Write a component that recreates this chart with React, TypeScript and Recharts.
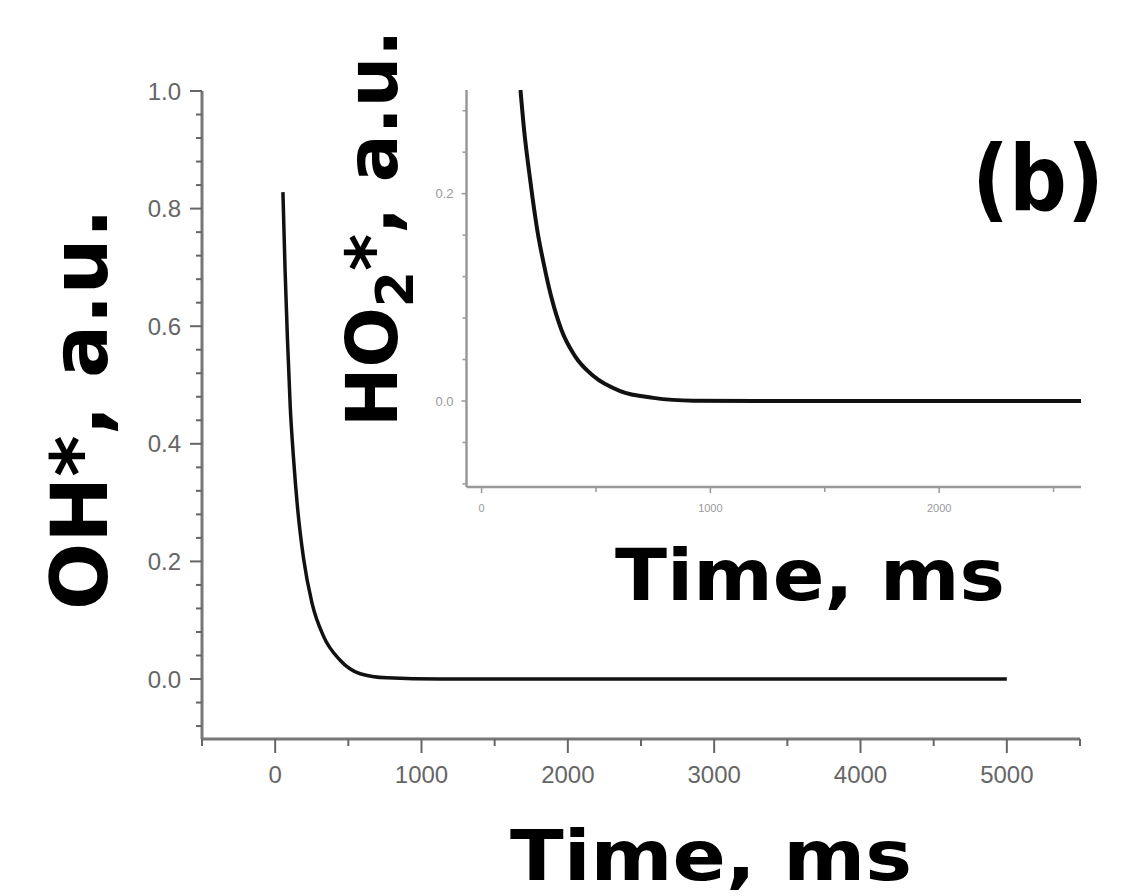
import React from 'react';
import { LineChart, Line, XAxis, YAxis, Label } from 'recharts';

// 메인 그래프: OH* 감쇠 (시간 ms, 값 a.u.)
const ohTime = [53, 68, 84, 103, 125, 153, 194, 251, 330, 444, 581, 763, 1128, 2000, 3000, 4000, 5000];
const ohValue = [0.828, 0.693, 0.578, 0.463, 0.377, 0.291, 0.205, 0.13, 0.073, 0.032, 0.009, 0.002, 0, 0, 0, 0, 0];

// 인셋 그래프: HO2* 감쇠
const ho2Time = [170, 186, 203, 222, 244, 272, 305, 350, 409, 489, 606, 751, 926, 1200, 2000, 2620];
const ho2Value = [0.3, 0.261, 0.229, 0.197, 0.164, 0.132, 0.1, 0.068, 0.043, 0.024, 0.0095, 0.003, 0.0003, 0, 0, 0];

// 눈금
const mainXTicks = [-500, 0, 500, 1000, 1500, 2000, 2500, 3000, 3500, 4000, 4500, 5000, 5500];
const mainXLabels = [0, 1000, 2000, 3000, 4000, 5000];
const mainYTicks = [
  -0.08, -0.04, 0, 0.04, 0.08, 0.12, 0.16, 0.2, 0.24, 0.28, 0.32, 0.36, 0.4, 0.44, 0.48, 0.52,
  0.56, 0.6, 0.64, 0.68, 0.72, 0.76, 0.8, 0.84, 0.88, 0.92, 0.96, 1.0,
];
const mainYLabels = [0, 0.2, 0.4, 0.6, 0.8, 1.0];

const insetXTicks = [0, 500, 1000, 1500, 2000, 2500];
const insetXLabels = [0, 1000, 2000];
const insetYTicks = [-0.08, -0.04, 0, 0.04, 0.08, 0.12, 0.16, 0.2, 0.24, 0.28];
const insetYLabels = [0, 0.2];

const mainData = ohTime.map((t, i) => ({ t, v: ohValue[i] }));
const insetData = ho2Time.map((t, i) => ({ t, v: ho2Value[i] }));

const TICK_FONT = '"Liberation Sans", Arial, sans-serif';
const TITLE_FONT = '"DejaVu Sans", sans-serif';

interface TickStyle {
  majors: number[];
  majorLen: number;
  minorLen: number;
  color: string;
  lineWidth: number;
  fontSize: number;
  offset: number;
  format: (v: number) => string;
}

const isMajor = (v: number, majors: number[]) => majors.some((m) => Math.abs(m - v) < 1e-6);

// 아래쪽 X축 눈금 (주/보조 눈금 길이 다르게)
function makeXTick(s: TickStyle) {
  return (props: any) => {
    const { x, y, payload } = props;
    const major = isMajor(payload.value, s.majors);
    return (
      <g>
        <line x1={x} x2={x} y1={y} y2={y + (major ? s.majorLen : s.minorLen)} stroke={s.color} strokeWidth={s.lineWidth} />
        {major && (
          <text x={x} y={y + s.offset} textAnchor="middle" fill={s.color} fontSize={s.fontSize} fontFamily={TICK_FONT}>
            {s.format(payload.value)}
          </text>
        )}
      </g>
    );
  };
}

// 왼쪽 Y축 눈금
function makeYTick(s: TickStyle) {
  return (props: any) => {
    const { x, y, payload } = props;
    const major = isMajor(payload.value, s.majors);
    return (
      <g>
        <line x1={x} x2={x - (major ? s.majorLen : s.minorLen)} y1={y} y2={y} stroke={s.color} strokeWidth={s.lineWidth} />
        {major && (
          <text x={x - s.offset} y={y + s.fontSize * 0.36} textAnchor="end" fill={s.color} fontSize={s.fontSize} fontFamily={TICK_FONT}>
            {s.format(payload.value)}
          </text>
        )}
      </g>
    );
  };
}

const mainXTick = makeXTick({ majors: mainXLabels, majorLen: 14, minorLen: 7, color: '#666', lineWidth: 2, fontSize: 24, offset: 44, format: (v) => String(v) });
const mainYTick = makeYTick({ majors: mainYLabels, majorLen: 12, minorLen: 6, color: '#666', lineWidth: 2, fontSize: 24, offset: 21, format: (v) => v.toFixed(1) });
const insetXTick = makeXTick({ majors: insetXLabels, majorLen: 6, minorLen: 5, color: '#999', lineWidth: 1.5, fontSize: 11, offset: 25, format: (v) => String(v) });
const insetYTick = makeYTick({ majors: insetYLabels, majorLen: 5, minorLen: 4, color: '#999', lineWidth: 1.5, fontSize: 13, offset: 13, format: (v) => v.toFixed(1) });

// 축 제목들 (굵은 큰 글씨)
const MainYTitle = () => (
  <text transform="translate(107,610) rotate(-90)" fontFamily={TITLE_FONT} fontWeight="bold" fontSize={79} fill="#000">
    OH*, a.u.
  </text>
);

const InsetYTitle = () => (
  <text transform="translate(397,427) rotate(-90)" fontFamily={TITLE_FONT} fontWeight="bold" fontSize={71} fill="#000">
    HO
    <tspan fontSize={52} dy={16}>2</tspan>
    <tspan dy={-16}>*, a.u.</tspan>
  </text>
);

const MainXTitle = () => (
  <text x={510} y={880} fontFamily={TITLE_FONT} fontWeight="bold" fontSize={70} fill="#000" textLength={402} lengthAdjust="spacingAndGlyphs">
    Time, ms
  </text>
);

const InsetXTitle = () => (
  <text x={615} y={600} fontFamily={TITLE_FONT} fontWeight="bold" fontSize={72} fill="#000" textLength={390} lengthAdjust="spacingAndGlyphs">
    Time, ms
  </text>
);

const layer: React.CSSProperties = { position: 'absolute', left: 0, top: 0 };

export default function App() {
  return (
    <div style={{ position: 'absolute', left: 0, top: 0, width: 1124, height: 896, background: '#fff' }}>
      <div style={layer}>
        <LineChart width={1124} height={896} data={mainData} margin={{ top: 91, left: 142, right: 44, bottom: 117 }}>
          <XAxis
            dataKey="t"
            type="number"
            domain={[-500, 5500]}
            ticks={mainXTicks}
            interval={0}
            height={40}
            tickSize={0}
            tickMargin={0}
            tickLine={false}
            tick={mainXTick}
            axisLine={{ stroke: '#777', strokeWidth: 3 }}
            allowDataOverflow
          >
            <Label content={MainXTitle} />
          </XAxis>
          <YAxis
            type="number"
            domain={[-0.102, 1.0]}
            ticks={mainYTicks}
            interval={0}
            width={60}
            tickSize={0}
            tickMargin={0}
            tickLine={false}
            tick={mainYTick}
            axisLine={{ stroke: '#777', strokeWidth: 3 }}
            allowDataOverflow
          >
            <Label content={MainYTitle} />
          </YAxis>
          <Line dataKey="v" type="monotone" stroke="#111" strokeWidth={3.5} dot={false} isAnimationActive={false} />
        </LineChart>
      </div>
      <div style={layer}>
        <LineChart width={1124} height={896} data={insetData} margin={{ top: 90, left: 426.5, right: 43, bottom: 379 }}>
          <XAxis
            dataKey="t"
            type="number"
            domain={[-66, 2620]}
            ticks={insetXTicks}
            interval={0}
            height={30}
            tickSize={0}
            tickMargin={0}
            tickLine={false}
            tick={insetXTick}
            axisLine={{ stroke: '#999', strokeWidth: 2.5 }}
            allowDataOverflow
          >
            <Label content={InsetXTitle} />
          </XAxis>
          <YAxis
            type="number"
            domain={[-0.083, 0.3]}
            ticks={insetYTicks}
            interval={0}
            width={40}
            tickSize={0}
            tickMargin={0}
            tickLine={false}
            tick={insetYTick}
            axisLine={{ stroke: '#999', strokeWidth: 2.5 }}
            allowDataOverflow
          >
            <Label content={InsetYTitle} />
          </YAxis>
          <Line dataKey="v" type="monotone" stroke="#111" strokeWidth={4} dot={false} isAnimationActive={false} />
        </LineChart>
      </div>
      <svg width={1124} height={896} style={{ ...layer, pointerEvents: 'none' }}>
        <text x={972} y={210} fontFamily={TITLE_FONT} fontWeight="bold" fontSize={90} fill="#000" textLength={132} lengthAdjust="spacingAndGlyphs">
          (b)
        </text>
      </svg>
    </div>
  );
}
